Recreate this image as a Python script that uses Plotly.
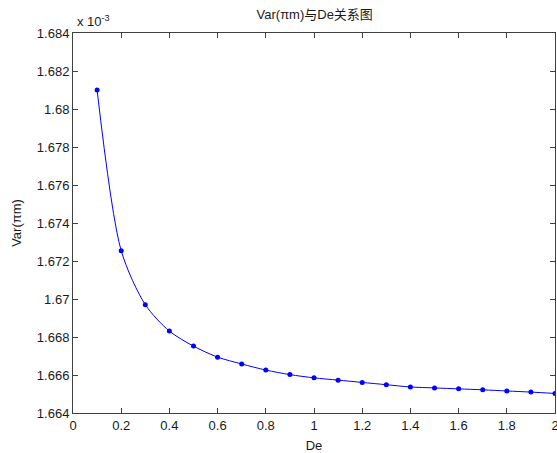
import plotly.graph_objects as go

# Data (Var values in units of 1e-3)
de_values = [0.1, 0.2, 0.3, 0.4, 0.5, 0.6, 0.7, 0.8, 0.9, 1.0,
             1.1, 1.2, 1.3, 1.4, 1.5, 1.6, 1.7, 1.8, 1.9, 2.0]
var_values = [1.6810, 1.67254, 1.6697, 1.66831, 1.66752, 1.66694, 1.66658, 1.66626, 1.66602, 1.66585,
              1.66573, 1.66561, 1.66549, 1.66537, 1.66532, 1.66527, 1.66522, 1.66516, 1.66510, 1.66503]

y_tickvals = [1.664, 1.666, 1.668, 1.670, 1.672, 1.674, 1.676, 1.678, 1.680, 1.682, 1.684]
y_ticktext = ["1.664", "1.666", "1.668", "1.67", "1.672", "1.674", "1.676", "1.678", "1.68", "1.682", "1.684"]
x_tickvals = [0, 0.2, 0.4, 0.6, 0.8, 1.0, 1.2, 1.4, 1.6, 1.8, 2.0]
x_ticktext = ["0", "0.2", "0.4", "0.6", "0.8", "1", "1.2", "1.4", "1.6", "1.8", "2"]

font_family = "Liberation Sans, Arial, Noto Sans CJK SC, sans-serif"

fig = go.Figure()
fig.add_trace(go.Scatter(
    x=de_values, y=var_values, mode="lines+markers",
    line=dict(color="#0000ff", width=1, shape="spline", smoothing=0.8),
    marker=dict(color="#0000ff", size=5, symbol="circle"),
    cliponaxis=True, showlegend=False,
))

axis_common = dict(
    showgrid=False, zeroline=False, showline=True, linecolor="#404040", linewidth=1,
    mirror="ticks", ticks="inside", ticklen=5, tickcolor="#404040",
    tickfont=dict(family=font_family, size=13, color="#1a1a1a"),
    ticklabeloverflow="allow",
)

# figure is 1px wider than the window so the right frame line falls just off-canvas, as in the reference
fig.update_layout(
    width=559, height=453,
    margin=dict(l=73, r=0, t=33, b=40),
    paper_bgcolor="white", plot_bgcolor="white",
    title=dict(text="Var(πm)与De关系图", x=0.563, xanchor="center", y=0.978, yanchor="top",
               font=dict(family=font_family, size=13, color="#1a1a1a")),
    xaxis=dict(range=[0, 2], tickvals=x_tickvals, ticktext=x_ticktext,
               title=dict(text="De", standoff=9, font=dict(family=font_family, size=13, color="#1a1a1a")),
               **axis_common),
    yaxis=dict(range=[1.664, 1.684], tickvals=y_tickvals, ticktext=y_ticktext,
               title=dict(text="Var(πm)", standoff=12, font=dict(family=font_family, size=13, color="#1a1a1a")),
               **axis_common),
    annotations=[dict(text="x 10<sup>-3</sup>", xref="paper", yref="paper", x=0.0, y=1.0,
                      xanchor="left", yanchor="bottom", showarrow=False, yshift=2, xshift=2,
                      font=dict(family=font_family, size=13, color="#1a1a1a"))],
)

fig.write_html(
    "out.html",
    config={"displayModeBar": False},
    post_script="document.body.style.margin='0';document.documentElement.style.overflow='hidden';document.body.style.overflow='hidden';",
)
